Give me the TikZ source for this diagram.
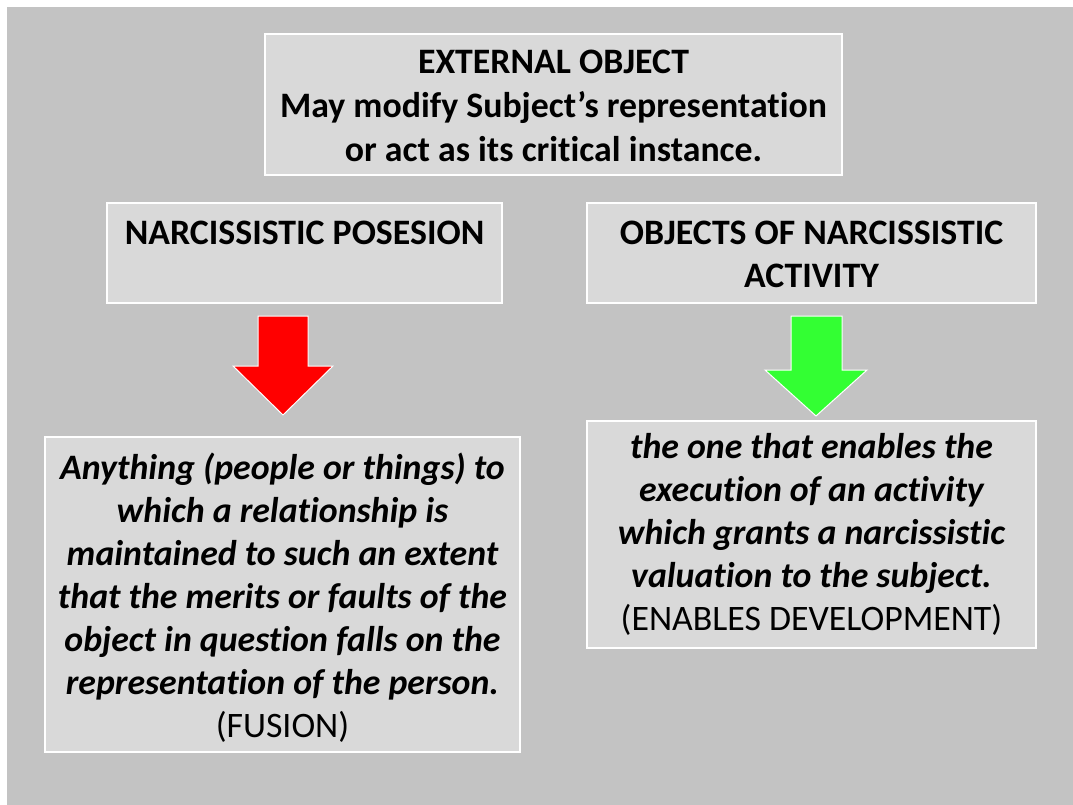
\documentclass[tikz,border=0pt]{standalone}
\usepackage{fontspec}
\setmainfont{Carlito}[Ligatures=NoCommon]
\usetikzlibrary{positioning}
\definecolor{slidegray}{RGB}{195,195,195}
\definecolor{boxgray}{RGB}{217,217,217}
\definecolor{arrowgreen}{RGB}{51,255,51}

\begin{document}
\begin{tikzpicture}[x=1pt,y=-1pt,
  box/.style = {draw=white, line width=1.2pt, fill=boxgray, inner sep=0pt},
  txt/.style = {align=center, inner sep=0pt, font=\fontsize{35.8}{43}\selectfont},
  blockarrow/.style = {draw=white, line width=1pt}]
  \useasboundingbox (0,0) rectangle (1073,805);
  \fill[slidegray] (7,7) rectangle (1073,805);

  % boxes
  \node[box, minimum width=577, minimum height=141] (ext) at (553.5,104.5) {};
  \node[box, minimum width=395, minimum height=100] (poss) at (304.5,253) {};
  \node[box, minimum width=449, minimum height=100] (act) at (811.5,253) {};
  \node[box, minimum width=475, minimum height=315] (fusion) at (282.5,594.5) {};
  \node[box, minimum width=449, minimum height=227] (devel) at (811.5,534.5) {};

  % texts
  \node[txt, font=\fontsize{35.8}{44}\selectfont\bfseries, yshift=-1pt] (exttext) at (ext)
    {EXTERNAL OBJECT\\May modify Subject’s representation\\or act as its critical instance.};
  \node[txt, font=\fontsize{35.8}{43}\selectfont\bfseries, anchor=north, yshift=-18pt] (posstext) at (poss.north)
    {NARCISSISTIC POSESION};
  \node[txt, font=\fontsize{35.8}{43}\selectfont\bfseries, anchor=north, yshift=-18pt] (acttext) at (act.north)
    {OBJECTS OF NARCISSISTIC\\ACTIVITY};
  \node[txt, yshift=-3pt] (fusiontext) at (fusion)
    {\bfseries\itshape Anything (people or things) to\\
     \bfseries\itshape which a relationship is\\
     \bfseries\itshape maintained to such an extent\\
     \bfseries\itshape that the merits or faults of the\\
     \bfseries\itshape object in question falls on the\\
     \bfseries\itshape representation of the person.\\
     (FUSION)};
  \node[txt] (develtext) at (devel)
    {\bfseries\itshape the one that enables the\\
     \bfseries\itshape execution of an activity\\
     \bfseries\itshape which grants a narcissistic\\
     \bfseries\itshape valuation to the subject.\\
     (ENABLES DEVELOPMENT)};

  % block arrows
  \filldraw[blockarrow, fill=red] (258,316) -- (308,316) -- (308,366) -- (333,366)
    -- (283,415) -- (233,366) -- (258,366) -- cycle;
  \filldraw[blockarrow, fill=arrowgreen] (791,316) -- (842,316) -- (842,370) -- (867,370)
    -- (816,416) -- (765,370) -- (791,370) -- cycle;
\end{tikzpicture}
\end{document}
